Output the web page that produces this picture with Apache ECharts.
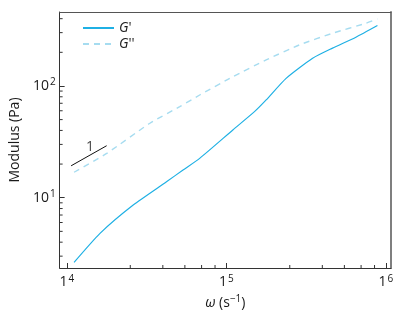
<!DOCTYPE html>
<html>
<head>
<meta charset="utf-8">
<style>
  html, body { margin: 0; padding: 0; background: #fff; }
  #chart { width: 400px; height: 315px; }
</style>
<script src="https://cdn.jsdelivr.net/npm/echarts@6/dist/echarts.min.js"></script>
</head>
<body>
<div id="chart"></div>
<script>
// ---- data ----
const seriesNames = ["G'", "G''"];
const omegaGp = [11105, 16150, 26080, 42170, 53550, 68080, 109900, 150200, 177800, 237100, 347700, 463600, 649400, 886200];
const gPrime  = [2.64, 4.80, 8.60, 13.9, 17.7, 22.5, 40.4, 58.9, 75.0, 117, 177, 218, 273, 347];
const omegaGpp = [11105, 17780, 33200, 51050, 68080, 109900, 177800, 287400, 463600, 749900, 886200];
const gDouble  = [16.9, 24.9, 46.4, 65.3, 83.0, 121, 171, 233, 296, 364, 398];
const slopeOmega = [10640, 17780];
const slopeG = [19.3, 29.2];
const slopeLabel = '1';
const slopeLabelPos = [13990, 28.7];
const xTickValues = [1e4, 1e5, 1e6];
const xTickLabels = [['1', '4'], ['1', '5'], ['1', '6']];
const yTickValues = [10, 100];
const yTickLabels = [['10', '1'], ['10', '2']];
const xMinorTicks = [25000, 40000, 55000, 70000, 85000, 250000, 400000, 550000, 700000, 850000];
const yMinorTicks = [3, 4, 5, 6, 7, 8, 9, 20, 30, 40, 50, 60, 70, 80, 90, 200, 300, 400];
const xAxisTitle = ['ω', ' (s', '−1', ')'];
const yAxisTitle = 'Modulus (Pa)';
const X_MIN = 9016, X_MAX = 1.078e6;
const Y_MIN = 2.35, Y_MAX = 459;

// ---- chart ----
const FONT = 'Open Sans';
const chart = echarts.init(document.getElementById('chart'), null, { renderer: 'canvas' });

function tickFormatter(values, labels) {
  return function (v) {
    for (let i = 0; i < values.length; i++) {
      if (Math.abs(Math.log10(v) - Math.log10(values[i])) < 1e-6) {
        return '{b|' + labels[i][0] + '}{s|' + labels[i][1] + '}';
      }
    }
    return '';
  };
}

const tickRich = {
  b: { fontFamily: FONT, fontSize: 14, color: '#1a1a1a', lineHeight: 17 },
  s: { fontFamily: FONT, fontSize: 10, color: '#1a1a1a', verticalAlign: 'top', lineHeight: 10, padding: [0, 0, 0, 1] }
};

function pairs(xs, ys) { return xs.map((x, i) => [x, ys[i]]); }

const option = {
  animation: false,
  backgroundColor: '#fff',
  grid: { left: 59.5, right: 9, top: 12, bottom: 47, containLabel: false },
  legend: {
    data: seriesNames,
    orient: 'vertical',
    left: 82,
    top: 21,
    padding: 0,
    itemWidth: 31,
    itemHeight: 14,
    itemGap: 2,
    itemStyle: { opacity: 0 },
    formatter: function (name) { return '{i|G}' + name.slice(1); },
    textStyle: {
      fontFamily: FONT, fontSize: 14, color: '#1a1a1a',
      rich: { i: { fontFamily: FONT, fontSize: 14, fontStyle: 'italic', color: '#1a1a1a' } }
    }
  },
  xAxis: [
    {
      type: 'log', logBase: 10, min: X_MIN, max: X_MAX,
      position: 'bottom',
      axisLine: { show: true, lineStyle: { color: '#333', width: 1 } },
      axisTick: { show: true, inside: true, length: 5, lineStyle: { color: '#333' } },
      axisLabel: { show: true, margin: 6, formatter: tickFormatter(xTickValues, xTickLabels), rich: tickRich, showMinLabel: false, showMaxLabel: false },
      splitLine: { show: false },
      minorTick: { show: false },
      name: '{i|' + xAxisTitle[0] + '}{n|' + xAxisTitle[1] + '}{s|' + xAxisTitle[2] + '}{n|' + xAxisTitle[3] + '}',
      nameLocation: 'middle',
      nameGap: 22,
      nameTextStyle: {
        rich: {
          i: { fontFamily: FONT, fontSize: 14, fontStyle: 'italic', color: '#1a1a1a', lineHeight: 17 },
          n: { fontFamily: FONT, fontSize: 14, color: '#1a1a1a', lineHeight: 17 },
          s: { fontFamily: FONT, fontSize: 10, color: '#1a1a1a', verticalAlign: 'top', lineHeight: 10 }
        }
      }
    },
    {
      type: 'log', logBase: 10, min: X_MIN, max: X_MAX,
      position: 'top',
      axisLine: { show: true, lineStyle: { color: '#555', width: 1 } },
      axisTick: { show: false }, axisLabel: { show: false }, splitLine: { show: false }
    }
  ],
  yAxis: [
    {
      type: 'log', logBase: 10, min: Y_MIN, max: Y_MAX,
      position: 'left',
      axisLine: { show: true, lineStyle: { color: '#333', width: 1 } },
      axisTick: { show: true, inside: true, length: 5, lineStyle: { color: '#333' } },
      axisLabel: { show: true, margin: 4, formatter: tickFormatter(yTickValues, yTickLabels), rich: tickRich, showMinLabel: false, showMaxLabel: false },
      splitLine: { show: false },
      name: yAxisTitle,
      nameLocation: 'middle',
      nameGap: 31,
      nameTextStyle: { fontFamily: FONT, fontSize: 14, color: '#1a1a1a' }
    },
    {
      type: 'log', logBase: 10, min: Y_MIN, max: Y_MAX,
      position: 'right',
      axisLine: { show: true, lineStyle: { color: '#7f7f7f', width: 2 } },
      axisTick: { show: false }, axisLabel: { show: false }, splitLine: { show: false }
    }
  ],
  series: [
    {
      name: seriesNames[0], type: 'line', xAxisIndex: 0, yAxisIndex: 0,
      data: pairs(omegaGp, gPrime), smooth: 0.2, symbol: 'none',
      lineStyle: { color: '#1fb0e4', width: 1.2 },
      itemStyle: { color: '#1fb0e4' }
    },
    {
      name: seriesNames[1], type: 'line', xAxisIndex: 0, yAxisIndex: 0,
      data: pairs(omegaGpp, gDouble), smooth: 0.2, symbol: 'none',
      lineStyle: { color: '#a6dcf0', width: 1.4, type: [6, 5] },
      itemStyle: { color: '#a6dcf0' }
    },
    {
      name: 'slope', type: 'line', xAxisIndex: 0, yAxisIndex: 0,
      data: pairs(slopeOmega, slopeG), symbol: 'none',
      lineStyle: { color: '#111', width: 1 }, silent: true
    },
    {
      name: 'slopeLabel', type: 'scatter', xAxisIndex: 0, yAxisIndex: 0,
      data: [slopeLabelPos], symbolSize: 0, silent: true,
      label: { show: true, position: 'inside', formatter: slopeLabel, fontFamily: FONT, fontSize: 14, color: '#111' }
    },
    {
      name: 'xMinor', type: 'custom', xAxisIndex: 0, yAxisIndex: 0, silent: true, clip: false,
      data: xMinorTicks.map(v => [v]),
      renderItem: function (params, api) {
        const p = api.coord([api.value(0), Y_MIN]);
        return { type: 'line', shape: { x1: p[0], y1: p[1], x2: p[0], y2: p[1] - 3 }, style: { stroke: '#333', lineWidth: 1 } };
      },
      encode: { x: 0 }
    },
    {
      name: 'yMinor', type: 'custom', xAxisIndex: 0, yAxisIndex: 0, silent: true, clip: false,
      data: yMinorTicks.map(v => [X_MIN, v]),
      renderItem: function (params, api) {
        const p = api.coord([X_MIN, api.value(1)]);
        return { type: 'line', shape: { x1: p[0], y1: p[1], x2: p[0] + 3, y2: p[1] }, style: { stroke: '#333', lineWidth: 1 } };
      },
      encode: { x: 0, y: 1 }
    }
  ]
};
chart.setOption(option);
</script>
</body>
</html>
